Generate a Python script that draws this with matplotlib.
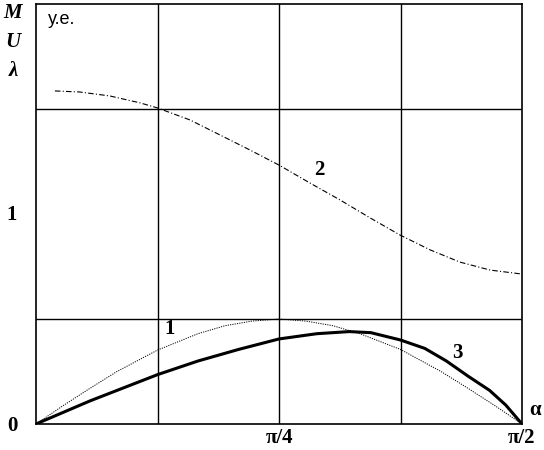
import numpy as np
import matplotlib
matplotlib.use("Agg")
import matplotlib.pyplot as plt

# angle in degrees (0 .. 90 = pi/2)
a1 = [0, 5, 10, 15, 22.5, 30, 35, 40, 45, 50, 55, 60, 67.5, 75, 80, 85, 90]
curve1 = [0, 0.087, 0.17, 0.25, 0.352, 0.43, 0.468, 0.49, 0.5, 0.49, 0.468,
          0.43, 0.355, 0.25, 0.17, 0.087, 0]

a2 = [3.5, 8.1, 13.7, 19.3, 22.5, 28.5, 34.1, 39.6, 45, 50.7, 56.3,
      61.9, 67.4, 73, 78.5, 84.1, 90]
curve2 = [1.586, 1.581, 1.562, 1.529, 1.505, 1.448, 1.376, 1.305, 1.233,
          1.148, 1.067, 0.981, 0.9, 0.829, 0.771, 0.733, 0.714]

a3 = [0, 5, 10, 15, 22.5, 30, 37.5, 45, 52, 58, 62, 67.5, 72, 76, 80, 84, 87, 90]
curve3 = [0, 0.055, 0.11, 0.16, 0.235, 0.3, 0.355, 0.405, 0.43, 0.44, 0.435,
          0.4, 0.36, 0.30, 0.228, 0.16, 0.09, 0]

rad = lambda d: np.radians(d)

fig = plt.figure(figsize=(5.44, 4.5), dpi=100)
ax = fig.add_axes([36/544, 26/450, 486/544, 420/450])

ax.plot(rad(a1), curve1, color='black', lw=0.7, dashes=(1.2, 1.2))
ax.plot(rad(a2), curve2, color='black', lw=0.8, dashes=(5, 2, 1, 2))
ax.plot(rad(a3), curve3, color='black', lw=2.2)

ax.set_xlim(0, np.pi/2)
ax.set_ylim(0, 2)
for x in [np.pi/8, np.pi/4, 3*np.pi/8]:
    ax.axvline(x, color='black', lw=1)
for y in [0.5, 1.5]:
    ax.axhline(y, color='black', lw=1)
for s in ax.spines.values():
    s.set_linewidth(1.2)
ax.set_xticks([])
ax.set_yticks([])

serif = dict(family='Liberation Serif', fontsize=15, fontweight='bold')
fig.text(12/544, 1 - 436/450, '0', ha='center', va='bottom', **serif)
fig.text(12/544, 1 - 215/450, '1', ha='center', va='center', **serif)
fig.text(280/544, 1 - 448/450, 'π/4', ha='center', va='bottom', **serif)
fig.text(522/544, 1 - 448/450, 'π/2', ha='center', va='bottom', **serif)
fig.text(535/544, 1 - 410/450, 'α', ha='center', va='center', **serif)

ital = dict(family='Liberation Serif', fontsize=15, fontweight='bold', style='italic')
fig.text(13/544, 1 - 13/450, 'M', ha='center', va='center', **ital)
fig.text(13/544, 1 - 42/450, 'U', ha='center', va='center', **ital)
fig.text(13/544, 1 - 71/450, 'λ', ha='center', va='center', **ital)

fig.text(48/544, 1 - 20/450, 'y.e.', ha='left', va='center',
         family='Liberation Sans', fontsize=13)

ax.text(rad(24.8), 0.45, '1', ha='center', va='center', **serif)
ax.text(rad(52.5), 1.21, '2', ha='center', va='center', **serif)
ax.text(rad(78), 0.34, '3', ha='center', va='center', **serif)

fig.savefig('out.png', dpi=100)
